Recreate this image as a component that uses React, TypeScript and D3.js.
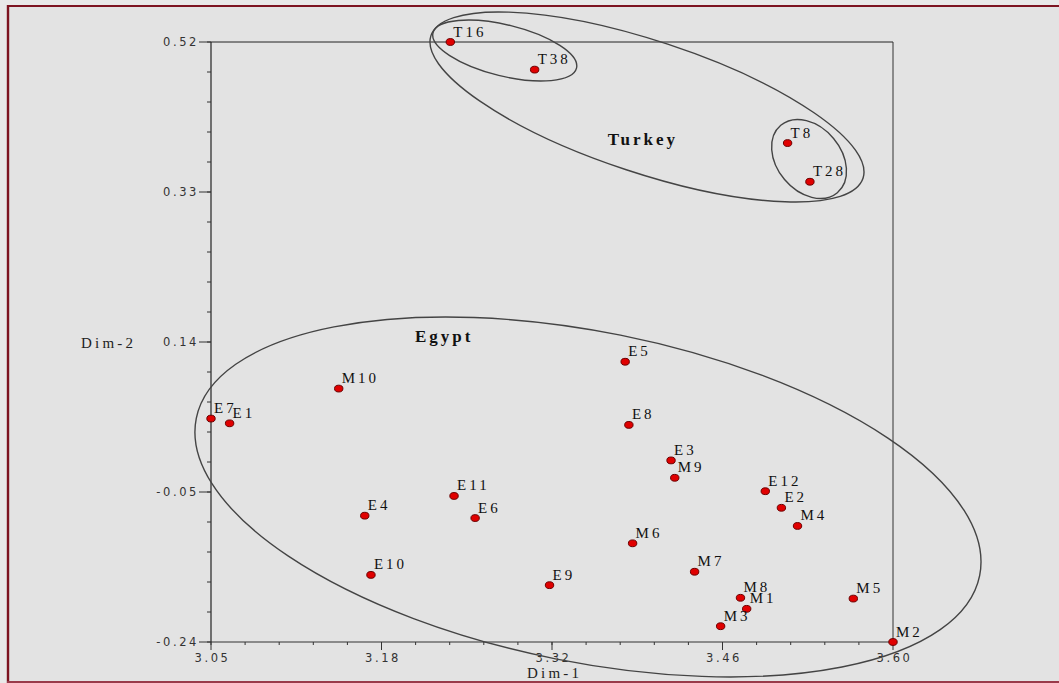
import React from "react";
import * as d3 from "d3";

// ---- data ----
const pointNames = ["T16","T38","T8","T28","E7","E1","M10","E5","E8","E3","M9","E12","E2","M4","E11","E4","E6","M6","E10","E9","M7","M8","M1","M3","M5","M2"];
const dim1 = [3.243,3.311,3.515,3.533,3.050,3.065,3.153,3.384,3.387,3.421,3.424,3.497,3.510,3.523,3.246,3.174,3.263,3.390,3.179,3.323,3.440,3.477,3.482,3.461,3.568,3.600];
const dim2 = [0.520,0.485,0.392,0.343,0.043,0.037,0.081,0.115,0.035,-0.010,-0.032,-0.049,-0.070,-0.093,-0.055,-0.080,-0.083,-0.115,-0.155,-0.168,-0.151,-0.184,-0.198,-0.220,-0.185,-0.240];

const xTickLabels = ["3.05","3.18","3.32","3.46","3.60"];
const yTickLabels = ["0.52","0.33","0.14","-0.05","-0.24"];
const xDomain = [3.05, 3.6];
const yDomain = [-0.24, 0.52];

// group annotations: centre in data units, semi-axes in px, angle in degrees
const groupNames = ["Egypt", "Turkey", "", ""];
const groupCx = [3.354, 3.4016, 3.2869, 3.5323];
const groupCy = [-0.0563, 0.4377, 0.5092, 0.3718];
const groupA = [399.5, 227.5, 73.9, 44];
const groupB = [165.1, 66.1, 25.6, 32];
const groupAngle = [11.35, 18.27, 13.84, 50];
const groupLabelX = [3.2145, 3.37];
const groupLabelY = [0.1405, 0.3895];

export default function App() {
  const W = 1059, H = 683;
  const x = d3.scaleLinear().domain(xDomain).range([211, 893]);
  const y = d3.scaleLinear().domain(yDomain).range([642, 42]);
  const nMaj = xTickLabels.length;
  const xMajor = d3.range(nMaj).map(i => xDomain[0] + (i * (xDomain[1] - xDomain[0])) / (nMaj - 1));
  const yMajor = d3.range(nMaj).map(i => yDomain[1] - (i * (yDomain[1] - yDomain[0])) / (nMaj - 1));
  const xMinor = d3.range((nMaj - 1) * 5 + 1).map(i => xDomain[0] + (i * (xDomain[1] - xDomain[0])) / ((nMaj - 1) * 5));
  const yMinor = d3.range((nMaj - 1) * 5 + 1).map(i => yDomain[0] + (i * (yDomain[1] - yDomain[0])) / ((nMaj - 1) * 5));
  const serif = "'Liberation Serif', 'Times New Roman', serif";
  const sans = "'DejaVu Sans', Verdana, sans-serif";
  const x0 = x(xDomain[0]), x1 = x(xDomain[1]), y0 = y(yDomain[0]), y1 = y(yDomain[1]);

  return (
    <svg width={W} height={H} style={{ position: "absolute", left: 0, top: 0, display: "block" }}>
      <rect x={0} y={0} width={W} height={H} fill="#e9e9e9" />
      <rect x={8} y={6} width={W - 8} height={H - 7} fill="#e3e3e3" />
      {/* frame border */}
      <line x1={7} y1={6} x2={W} y2={6} stroke="#7d1421" strokeWidth={2.2} />
      <line x1={8} y1={5} x2={8} y2={H} stroke="#7d1421" strokeWidth={2.4} />
      <line x1={7} y1={682} x2={W} y2={682} stroke="#9a3a4a" strokeWidth={2} />

      {/* plot box */}
      <line x1={x0} y1={y1} x2={x1} y2={y1} stroke="#222" strokeWidth={1} />
      <line x1={x1} y1={y1} x2={x1} y2={y0} stroke="#333" strokeWidth={1} />
      <line x1={x0} y1={y0} x2={x1} y2={y0} stroke="#333" strokeWidth={1.2} />
      <line x1={x0} y1={y1} x2={x0} y2={y0} stroke="#222" strokeWidth={1.2} />

      {/* minor ticks */}
      {xMinor.map((v, i) => (
        <line key={"xm" + i} x1={x(v)} x2={x(v)} y1={y0} y2={y0 + 3} stroke="#333" />
      ))}
      {yMinor.map((v, i) => (
        <line key={"ym" + i} x1={x0 - 4} x2={x0} y1={y(v)} y2={y(v)} stroke="#333" />
      ))}
      {/* major ticks + labels */}
      {xMajor.map((v, i) => (
        <g key={"xM" + i}>
          <line x1={x(v)} x2={x(v)} y1={y0} y2={y0 + 8} stroke="#333" />
          <text x={x(v) + 1.5} y={662} textAnchor="middle" fontFamily={sans} fontSize={11.5} letterSpacing={2.6} fill="#333">
            {xTickLabels[i]}
          </text>
        </g>
      ))}
      {yMajor.map((v, i) => (
        <g key={"yM" + i}>
          <line x1={x0 - 12} x2={x0} y1={y(v)} y2={y(v)} stroke="#333" />
          <text x={x0 - 12} y={y(v) + 4} textAnchor="end" fontFamily={sans} fontSize={11.5} letterSpacing={2.6} fill="#333">
            {yTickLabels[i]}
          </text>
        </g>
      ))}

      {/* axis titles */}
      <text x={527} y={678} fontFamily={serif} fontSize={15} letterSpacing={3.2} fill="#222">Dim-1</text>
      <text x={81} y={348} fontFamily={serif} fontSize={15} letterSpacing={3.2} fill="#222">Dim-2</text>

      {/* group ellipses */}
      {groupCx.map((cx, i) => (
        <ellipse
          key={"g" + i}
          cx={x(cx)}
          cy={y(groupCy[i])}
          rx={groupA[i]}
          ry={groupB[i]}
          transform={`rotate(${groupAngle[i]} ${x(cx)} ${y(groupCy[i])})`}
          fill="none"
          stroke="#444"
          strokeWidth={1.4}
        />
      ))}
      {groupLabelX.map((v, i) => (
        <text key={"gl" + i} x={x(v)} y={y(groupLabelY[i])} fontFamily={serif} fontSize={17} fontWeight="bold" letterSpacing={3} fill="#111">
          {groupNames[i]}
        </text>
      ))}

      {/* points */}
      {pointNames.map((n, i) => (
        <g key={n}>
          <ellipse cx={x(dim1[i])} cy={y(dim2[i])} rx={4.2} ry={3.4} fill="#e00000" stroke="#6a0000" strokeWidth={1} />
          <text x={x(dim1[i]) + 3} y={y(dim2[i]) - 5.5} fontFamily={serif} fontSize={15} letterSpacing={3} fill="#111">
            {n}
          </text>
        </g>
      ))}
    </svg>
  );
}
